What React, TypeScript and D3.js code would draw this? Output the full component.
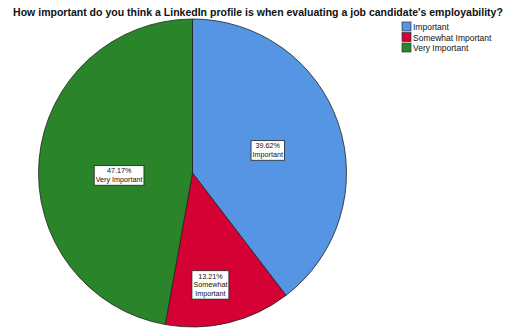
import React from "react";
import * as d3 from "d3";

const categories = ["Important", "Somewhat Important", "Very Important"];
const percents = [39.62, 13.21, 47.17];
const labelLines = [["39.62%", "Important"], ["13.21%", "Somewhat", "Important"], ["47.17%", "Very Important"]];
const colors = ["#5595E3", "#D50034", "#2A852A"];
const labelRadiusFrac = [0.51, 0.736, 0.477];
const labelAngleShiftDeg = [2, 4.5, -7];
const title = "How important do you think a LinkedIn profile is when evaluating a job candidate's employability?";

const W = 509, H = 328;
const cx = 192.5, cy = 173, R = 154;
const font = "'Liberation Sans', Arial, sans-serif";

let ctx: CanvasRenderingContext2D | null = null;
function measure(t: string, size: number, weight = "normal") {
  if (!ctx) ctx = document.createElement("canvas").getContext("2d");
  if (!ctx) return t.length * size * 0.5;
  ctx.font = `${weight} ${size}px 'Liberation Sans', Arial, sans-serif`;
  return ctx.measureText(t).width;
}

export default function App() {
  const pie = d3.pie<number>().sort(null).value((d) => d);
  const arcs = pie(percents);
  const arcGen = d3.arc<d3.PieArcDatum<number>>().innerRadius(0).outerRadius(R);
  const fs = 7.2;
  const lh = 8.8;
  const titleTarget = 490;
  const titleSize = Math.min(12, (12 * titleTarget) / measure(title, 12, "bold"));
  return (
    <div style={{ position: "fixed", left: 0, top: 0 }}>
      <svg width={W} height={H} style={{ display: "block", background: "#fff" }}>
        <text x={258} y={15.5} textAnchor="middle" fontFamily={font} fontSize={titleSize} fontWeight="bold" fill="#111">
          {title}
        </text>
        <g transform={`translate(${cx},${cy})`}>
          {arcs.map((a, i) => (
            <path key={i} d={arcGen(a) || ""} fill={colors[i]} stroke="#222" strokeWidth={0.8} />
          ))}
          {arcs.map((a, i) => {
            const mid = (a.startAngle + a.endAngle) / 2 + (labelAngleShiftDeg[i] * Math.PI) / 180;
            const r = R * labelRadiusFrac[i];
            const x = Math.sin(mid) * r;
            const y = -Math.cos(mid) * r;
            const lines = labelLines[i];
            const bw = Math.max(...lines.map((l) => measure(l, fs))) + 3;
            const bh = lines.length * lh + 2;
            return (
              <g key={"l" + i} transform={`translate(${x},${y})`}>
                <rect x={-bw / 2} y={-bh / 2} width={bw} height={bh} fill="#fff" stroke="#222" strokeWidth={0.8} />
                {lines.map((l, j) => (
                  <text key={j} x={0} y={-bh / 2 + 1 + lh * (j + 1) - 2} textAnchor="middle" fontFamily={font} fontSize={fs} fill="#111">
                    {l}
                  </text>
                ))}
              </g>
            );
          })}
        </g>
        <g transform="translate(402,22)">
          {categories.map((c, i) => (
            <g key={c} transform={`translate(0,${i * 10.5})`}>
              <rect x={0} y={0} width={9} height={9} fill={colors[i]} stroke="#333" strokeWidth={0.7} />
              <text x={11} y={8} fontFamily={font} fontSize={8.5} fill="#111">{c}</text>
            </g>
          ))}
        </g>
      </svg>
    </div>
  );
}
